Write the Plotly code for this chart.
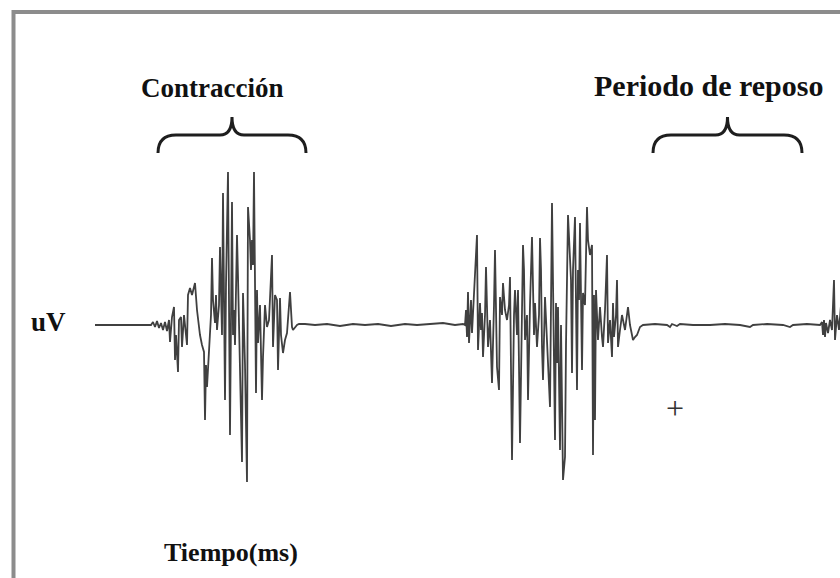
import plotly.graph_objects as go

# ---- EMG trace (time in ms, amplitude in uV) ----
rest0_t = [0, 20, 40, 56]
rest0_v = [0, 0, 0, 0]

burst1_t = [58, 60, 62, 64, 66, 68, 70, 72, 74, 75, 77, 79, 80, 81, 83, 84, 86, 87, 89, 91,
            92, 93, 95, 97, 100, 102, 103, 105, 107, 109, 110, 111, 112, 114, 116, 117, 118, 120,
            121, 122, 124, 125, 127, 128, 130, 131, 133, 135, 137, 138, 139, 140, 142, 143, 145,
            147, 148, 150, 152, 153, 155, 156, 157, 158, 159, 161, 162, 163, 165, 167, 168, 170,
            172, 174, 177, 178, 180, 182, 183, 185, 186, 188, 190, 192, 195, 197, 198, 200, 202]
burst1_v = [3, -2, 4, -3, 2, -5, 3, -6, 5, -17, 8, 18, -35, -10, -47, 5, 8, -22, 10, -15,
            -20, 30, 37, 30, 42, 15, 5, -10, -20, -27, -95, -40, -62, -20, 10, 67, 25, 2,
            30, -5, 20, 78, -10, 132, -75, 40, 153, -110, 123, -10, 15, -20, 90, 48, -65,
            -137, 32, -40, -157, 118, 85, 55, 85, 60, 153, -68, 35, -18, 20, -75, -32, 20,
            -2, 5, 70, -22, 30, 25, -45, 27, -10, -28, -15, -8, 33, -2, -5, -2, 0]

rest1_t = [204, 210, 220, 232, 245, 258, 270, 283, 296, 310, 322, 335, 348, 360, 368]
rest1_v = [1, 1, 0, 1, -1, 1, 0, 1, -1, 1, 0, 1, 2, 0, 1]

burst2_t = [370, 371, 372, 373, 374, 376, 377, 379, 382, 383, 385, 386, 387, 388, 390, 391, 392,
            393, 395, 397, 399, 400, 402, 404, 405, 407, 408, 410, 412, 414, 415, 417, 419, 420,
            422, 423, 425, 428, 429, 430, 432, 433, 435, 437, 439, 440, 442, 444, 445, 446, 447,
            448, 450, 451, 453, 455, 457, 459, 460, 461, 462, 463, 465, 466, 468, 470, 471, 473,
            475, 476, 477, 478, 480, 482, 483, 484, 485, 487, 488, 490, 492, 493, 495, 497, 498,
            499, 500, 501, 503, 505, 507, 508, 510, 512, 513, 515, 517, 518, 519, 521, 522, 523,
            525, 527, 530, 533, 535, 537, 538, 540, 542, 545, 548]
burst2_v = [0, 15, -12, 33, -18, 25, -8, 35, 90, -25, 22, -5, 12, -32, 10, 58, -5,
            -22, 5, -58, 20, 75, -42, -65, 28, 10, 42, 15, 5, 20, 48, -135, 10, 35,
            -10, 35, -118, 80, 55, -15, 10, -75, 20, 88, -10, 22, -22, 10, 87, 55, -22,
            -55, 28, 5, -38, -82, 122, -20, -115, 22, -38, 18, -125, 0, -155, -132, -20, 110,
            75, 45, -48, 55, 108, -65, 55, 25, 102, -45, 32, 20, 118, 85, 70, 80, -130,
            30, -95, 35, -15, 18, -12, -22, 15, 70, -18, 5, -32, 22, -12, 10, 45, -22,
            -5, 10, -5, 18, 0, -12, -15, -12, -10, -2, 0]

rest2_t = [560, 572, 575, 577, 582, 585, 598, 615, 630, 645, 655, 658, 672, 688, 695, 698, 712, 722]
rest2_v = [1, 0, -2, 1, -1, 1, 0, 0, 1, 0, -2, 0, 1, 0, -2, 0, 1, 0]

burst3_t = [725, 727, 728, 729, 730, 731, 733, 735, 737, 739, 740, 742, 744, 746]
burst3_v = [0, 3, -10, 5, -12, 2, -8, 5, -5, 45, -15, 10, -5, 20]

time_ms = rest0_t + burst1_t + rest1_t + burst2_t + rest2_t + burst3_t
emg_uv = rest0_v + burst1_v + rest1_v + burst2_v + rest2_v + burst3_v

# ---- labels ----
y_label = "uV"
x_label = "Tiempo(ms)"
phase_labels = ["Contracción", "Periodo de reposo"]
phase_start = [63, 558]
phase_end = [211, 707]

FONT = "Liberation Serif, Times New Roman, serif"

fig = go.Figure()
fig.add_trace(go.Scatter(
    x=time_ms, y=emg_uv, mode="lines",
    line=dict(color="#404040", width=1.8),
    hoverinfo="skip", showlegend=False,
))

# curly brackets over the phases
shapes = []
for s, e in zip(phase_start, phase_end):
    m = (s + e) / 2
    yb, yh, yt = 172, 190, 208
    path = (f"M {s},{yb} Q {s},{yh} {s+18},{yh} L {m-12},{yh} Q {m},{yh} {m},{yt} "
            f"Q {m},{yh} {m+12},{yh} L {e-18},{yh} Q {e},{yh} {e},{yb}")
    shapes.append(dict(type="path", xref="x", yref="y", path=path,
                       line=dict(color="#1e1e1e", width=3)))

# frame (only left/top visible in the crop)
shapes.append(dict(type="rect", xref="paper", yref="paper",
                   x0=13.5 / 840, x1=1.05, y0=-0.05, y1=1 - 12 / 578,
                   line=dict(color="#8c8c8c", width=4), layer="below"))

annotations = [
    dict(x=117, y=237, xref="x", yref="y", text=f"<b>{phase_labels[0]}</b>", showarrow=False,
         font=dict(family=FONT, size=27, color="#111")),
    dict(x=613, y=240, xref="x", yref="y", text=f"<b>{phase_labels[1]}</b>", showarrow=False,
         font=dict(family=FONT, size=30, color="#111")),
    dict(x=-47, y=3, xref="x", yref="y", text=f"<b>{y_label}</b>", showarrow=False,
         font=dict(family=FONT, size=27, color="#111")),
    dict(x=136, y=-227, xref="x", yref="y", text=f"<b>{x_label}</b>", showarrow=False,
         font=dict(family=FONT, size=26, color="#111")),
    dict(x=580, y=-83, xref="x", yref="y", text="+", showarrow=False,
         font=dict(family=FONT, size=32, color="#333")),
]

fig.update_layout(
    width=840, height=578,
    margin=dict(l=0, r=0, t=0, b=0),
    paper_bgcolor="white", plot_bgcolor="white",
    xaxis=dict(range=[-95, 745], visible=False, fixedrange=True),
    yaxis=dict(range=[-253, 325], visible=False, fixedrange=True),
    shapes=shapes, annotations=annotations,
)

fig.write_html("out.html", config={"displayModeBar": False},
               post_script="document.body.style.margin='0';document.body.style.overflow='hidden';")
